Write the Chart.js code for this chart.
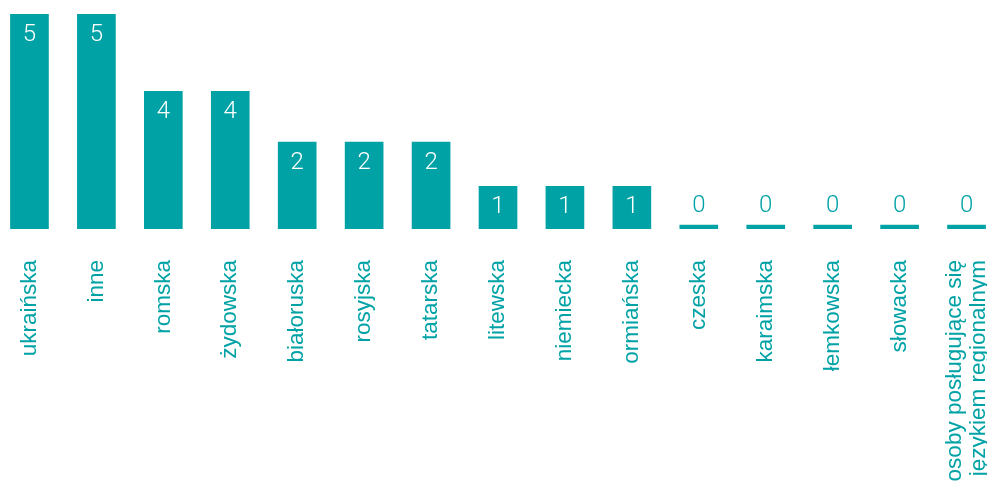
<!DOCTYPE html>
<html lang="pl">
<head>
<meta charset="utf-8">
<title>Języki</title>
<script src="https://cdn.jsdelivr.net/npm/chart.js@4/dist/chart.umd.min.js"></script>
<style>
    html, body { margin: 0; padding: 0; background: #fff; overflow: hidden; }
    #wrap { position: absolute; left: -4px; top: 0; width: 1004px; height: 484px; }
</style>
</head>
<body>
<div id="wrap"><canvas id="wykres"></canvas></div>
<script>
// Dane
const categories = [
    'ukraińska', 'inne', 'romska', 'żydowska', 'białoruska', 'rosyjska', 'tatarska',
    'litewska', 'niemiecka', 'ormiańska', 'czeska', 'karaimska', 'łemkowska', 'słowacka',
    ['osoby posługujące się', 'językiem regionalnym']
];
// wartości wypisane na słupkach
const values = [5, 5, 4, 4, 2, 2, 2, 1, 1, 1, 0, 0, 0, 0, 0];
// długości słupków (skala oryginału nie jest liniowa względem wartości)
const barLengths = [5, 5, 3.2, 3.2, 2.02, 2.02, 2.02, 0.99, 0.99, 0.99, 0, 0, 0, 0, 0];

const teal = '#00a2a6';

// Plugin rysujący wartości na słupkach
const valueLabels = {
    id: 'valueLabels',
    afterDatasetsDraw(chart) {
        const ctx = chart.ctx;
        const meta = chart.getDatasetMeta(0);
        ctx.save();
        ctx.font = '300 24px Roboto, sans-serif';
        ctx.textAlign = 'center';
        ctx.textBaseline = 'middle';
        meta.data.forEach((bar, i) => {
            const v = values[i];
            if (v > 0) {
                ctx.fillStyle = '#ffffff';
                ctx.fillText(String(v), bar.x, bar.y + 21);
            } else {
                ctx.fillStyle = teal;
                ctx.fillText(String(v), bar.x, bar.y - 19);
            }
        });
        ctx.restore();
    }
};

// Przesunięcie etykiety dwuwierszowej tak, by była wyśrodkowana pod słupkiem
const centerMultiline = {
    id: 'centerMultiline',
    beforeDraw(chart) {
        const items = chart.scales.x.getLabelItems();
        items.forEach(item => {
            if (Array.isArray(item.label) && !item._shifted) {
                item.textOffset -= 12;
                item._shifted = true;
            }
        });
    }
};

new Chart(document.getElementById('wykres').getContext('2d'), {
    type: 'bar',
    data: {
        labels: categories,
        datasets: [{
            data: barLengths,
            backgroundColor: teal,
            borderWidth: 0,
            barThickness: 38,
            minBarLength: 4
        }]
    },
    options: {
        responsive: true,
        maintainAspectRatio: false,
        animation: false,
        events: [],
        layout: { padding: { top: 14, left: 0, right: 0, bottom: 0 } },
        plugins: {
            legend: { display: false },
            tooltip: { enabled: false }
        },
        scales: {
            x: {
                grid: { display: false },
                border: { display: false },
                ticks: {
                    color: teal,
                    minRotation: 90,
                    maxRotation: 90,
                    autoSkip: false,
                    padding: 23,
                    font: { family: '"Liberation Sans", Arial, sans-serif', size: 22.5, lineHeight: 1.1 }
                },
                afterFit(scale) {
                    scale.paddingLeft = 0;
                    scale.paddingRight = 0;
                    scale.height = 255;
                }
            },
            y: {
                display: false,
                min: 0,
                max: 5
            }
        }
    },
    plugins: [valueLabels, centerMultiline]
});
</script>
</body>
</html>
